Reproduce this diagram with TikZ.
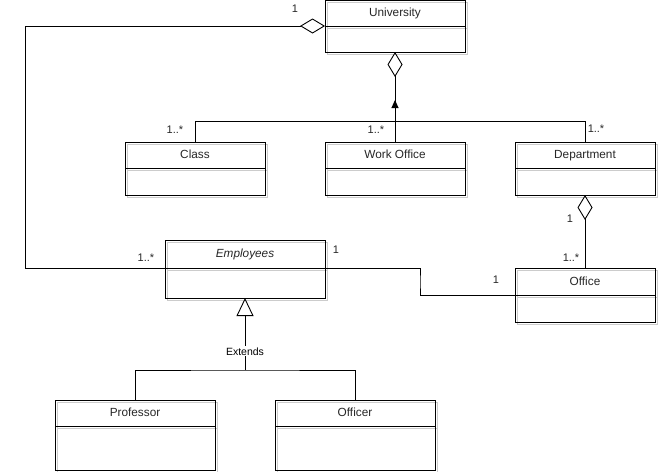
\documentclass[tikz,border=0pt]{standalone}
\usepackage{fontspec}
\setmainfont{Liberation Sans}
\usetikzlibrary{positioning,arrows.meta,shadows}

\begin{document}
\begin{tikzpicture}[x=1pt, y=-1pt, line width=0.9pt,
	head/.style = {draw, inner sep=0pt, outer sep=0pt, minimum height=26pt, text=black!85,
		text height=8.6pt, text depth=1.6pt, font=\fontsize{11.8}{14}\selectfont,
		copy shadow={shadow xshift=2pt, shadow yshift=-2pt, draw=black!20, fill=none, line width=0.8pt}},
	body/.style = {draw, inner sep=0pt, outer sep=0pt, minimum height=26pt,
		copy shadow={shadow xshift=2pt, shadow yshift=-2pt, draw=black!20, fill=none, line width=0.8pt}},
	mult/.style = {inner sep=0pt, text=black!85, font=\fontsize{11}{13}\selectfont},
	aggr/.style = {-{Diamond[open, length=25pt, width=15pt]}},
	ext/.style = {-{Triangle[open, length=18pt, width=17pt]}}]
	\useasboundingbox (0,0) rectangle (658,471);
	% classes
	\node[head, minimum width=140pt] (uni) at (395,13) {University};
	\node[body, minimum width=140pt, below=0pt of uni] (uni-b) {};
	\node[head, minimum width=140pt] (cls) at (195,155) {Class};
	\node[body, minimum width=140pt, minimum height=27pt, below=0pt of cls] (cls-b) {};
	\node[head, minimum width=140pt] (wo) at (395,155) {Work Office};
	\node[body, minimum width=140pt, minimum height=27pt, below=0pt of wo] (wo-b) {};
	\node[head, minimum width=140pt] (dep) at (585,155) {Department};
	\node[body, minimum width=140pt, minimum height=27pt, below=0pt of dep] (dep-b) {};
	\node[head, minimum width=140pt, minimum height=27pt] (off) at (585,281.5) {Office};
	\node[body, minimum width=140pt, minimum height=27pt, below=0pt of off] (off-b) {};
	\node[head, minimum width=160pt, minimum height=28pt] (emp) at (245,254) {\itshape Employees};
	\node[body, minimum width=160pt, minimum height=30pt, below=0pt of emp] (emp-b) {};
	\node[head, minimum width=160pt] (prof) at (135,413) {Professor};
	\node[body, minimum width=160pt, minimum height=44pt, below=0pt of prof] (prof-b) {};
	\node[head, minimum width=160pt] (offr) at (355,413) {Officer};
	\node[body, minimum width=160pt, minimum height=44pt, below=0pt of offr] (offr-b) {};
	% connectors
	\coordinate (tl) at (25,26);
	\coordinate (bend) at (420,282);
	\coordinate (gen) at (245,370);
	\draw[aggr] (emp.south west) -| (tl) -- (uni.south west);
	\draw (cls.north) -- ++(0,-21) -| (dep.north);
	\draw[aggr] (wo.north) -- (uni-b.south);
	\draw[-{Triangle[length=8pt, width=7pt]}] (wo.north) -- ++(0,-42);
	\draw[aggr] (off.north) -- (dep-b.south);
	\draw (emp.south east) -| (bend) |- (off.south west);
	\draw (prof.north) |- (gen) -| (offr.north);
	\draw[ext] (gen) -- node[pos=0.26, fill=white, inner sep=1pt, font=\fontsize{10.5}{12}\selectfont] (extl) {Extends} (emp-b.south);
	% multiplicities
	\node[mult] (m1) at (295,9) {1};
	\node[mult] (m2) at (175,130) {1..*};
	\node[mult] (m3) at (376,130) {1..*};
	\node[mult] (m4) at (596,129) {1..*};
	\node[mult] (m5) at (570,219) {1};
	\node[mult] (m6) at (571,258) {1..*};
	\node[mult] (m7) at (146,258) {1..*};
	\node[mult] (m8) at (336,250) {1};
	\node[mult] (m9) at (496,280) {1};
\end{tikzpicture}
\end{document}
